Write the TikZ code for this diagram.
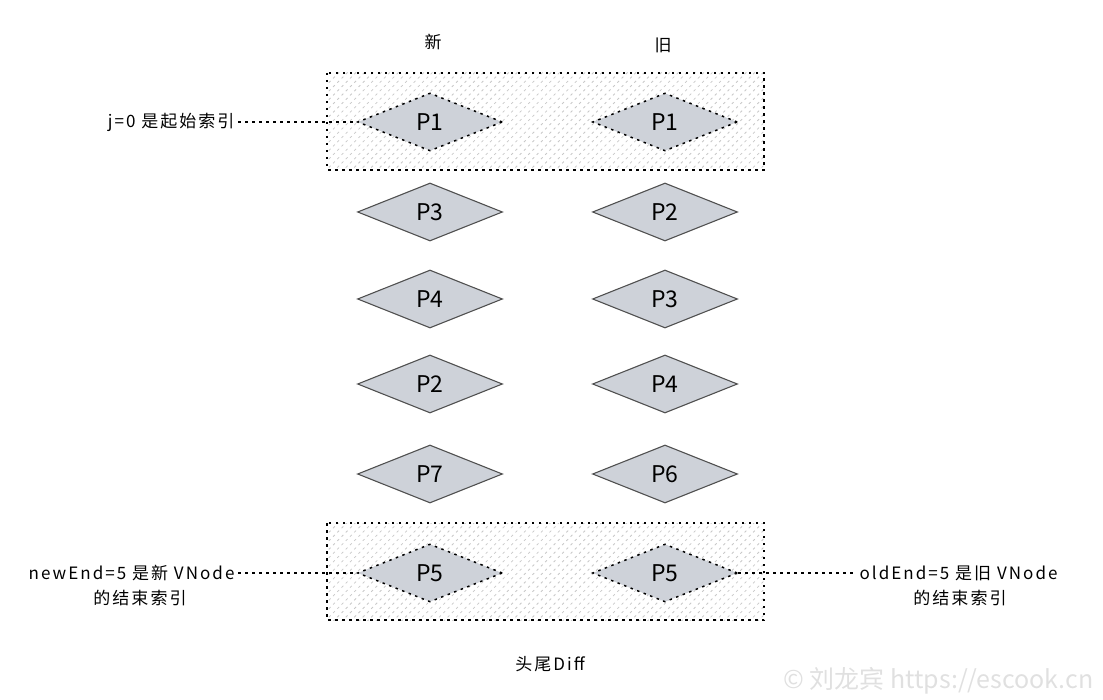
\documentclass[tikz,border=0pt]{standalone}
\usepackage{fontspec}
\setmainfont{Noto Sans CJK SC}
\newfontfamily\widefont[LetterSpace=12]{Noto Sans CJK SC}
\usetikzlibrary{shapes.geometric,patterns.meta,positioning}
\definecolor{vnodefill}{HTML}{CED2D9}
\definecolor{vnodeline}{HTML}{505050}
\definecolor{hatchgray}{HTML}{C8C8C8}

\begin{document}
\begin{tikzpicture}[x=1pt,y=-1pt,
  vnode/.style={diamond,aspect=2.5,inner sep=0pt,minimum width=145pt,minimum height=58pt,
    fill=vnodefill,draw=vnodeline,line width=1.1pt,font=\fontsize{23}{23}\selectfont},
  dotbox/.style={draw=black,line width=1.5pt,dash pattern=on 2.5pt off 4.5pt},
  vtarget/.style={vnode,draw=black,line width=1.5pt,dash pattern=on 2.5pt off 4.5pt},
  dotline/.style={draw=black,line width=1.4pt,dash pattern=on 2.5pt off 4.5pt},
  lbl/.style={font=\widefont\fontsize{17}{17}\selectfont}]
  \useasboundingbox (0,0) rectangle (1103,700);
  % hatched boxes for head and tail
  \draw[dotbox,pattern={Lines[angle=45,distance=6pt,line width=0.8pt]},pattern color=hatchgray]
    (327,73) rectangle (764,170);
  \draw[dotbox,pattern={Lines[angle=45,distance=6pt,line width=0.8pt]},pattern color=hatchgray]
    (327,523) rectangle (764,620);
  % column titles
  \node[lbl] (newtitle) at (433,42) {新};
  \node[lbl] (oldtitle) at (663,45) {旧};
  % new vnodes
  \node[vtarget] (n1) at (430,122) {P1};
  \node[vnode] (n2) at (430,212) {P3};
  \node[vnode] (n3) at (430,299) {P4};
  \node[vnode] (n4) at (430,384) {P2};
  \node[vnode] (n5) at (430,474) {P7};
  \node[vtarget] (n6) at (430,573) {P5};
  % old vnodes
  \node[vtarget] (o1) at (665,122) {P1};
  \node[vnode] (o2) at (665,212) {P2};
  \node[vnode] (o3) at (665,299) {P3};
  \node[vnode] (o4) at (665,384) {P4};
  \node[vnode] (o5) at (665,474) {P6};
  \node[vtarget] (o6) at (665,573) {P5};
  % index labels
  \node[lbl,anchor=east] (jlbl) at (238,122) {j=0 是起始索引};
  \node[lbl,anchor=east] (newlbl) at (238,573) {newEnd=5 是新 VNode};
  \node[lbl] (newsub) at (140,598) {的结束索引};
  \node[lbl,anchor=west] (oldlbl) at (856,573) {oldEnd=5 是旧 VNode};
  \node[lbl] (oldsub) at (960,598) {的结束索引};
  \draw[dotline] (jlbl.east) -- (n1.west);
  \draw[dotline] (newlbl.east) -- (n6.west);
  \draw[dotline] (o6.east) -- (oldlbl.west);
  % caption and mark
  \node[lbl] (caption) at (550,664) {头尾Diff};
  \node[font=\fontsize{25}{25}\selectfont,text=black!12,anchor=east] (mark) at (1097,681)
    {© 刘龙宾 https://escook.cn};
\end{tikzpicture}
\end{document}
